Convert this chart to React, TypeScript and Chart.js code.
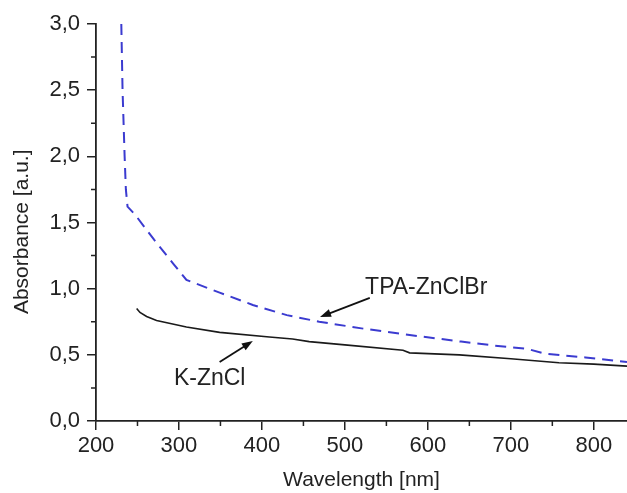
import React, { useEffect, useRef } from "react";
import { Chart, registerables } from "chart.js";

Chart.register(...registerables);

// ---- data ----
const tpaWavelength = [230.5, 232, 234.5, 236, 238, 247, 270, 293, 309, 349, 389, 430, 469, 520, 578, 640, 680, 720, 740, 790, 840];
const tpaAbsorbance = [3.0, 2.5, 2.0, 1.75, 1.62, 1.56, 1.37, 1.19, 1.066, 0.97, 0.877, 0.8, 0.75, 0.7, 0.65, 0.6, 0.57, 0.545, 0.51, 0.48, 0.445];

const kWavelength = [249, 253, 261, 273, 309, 349, 409, 437, 457, 500, 570, 578, 638, 700, 758, 800, 840];
const kAbsorbance = [0.85, 0.82, 0.79, 0.76, 0.71, 0.67, 0.635, 0.62, 0.6, 0.575, 0.535, 0.515, 0.5, 0.47, 0.44, 0.43, 0.415];

const xTickValues = [200, 300, 400, 500, 600, 700, 800];
const xMinorTicks = [250, 350, 450, 550, 650, 750];
const yTickValues = [0, 0.5, 1.0, 1.5, 2.0, 2.5, 3.0];
const yMinorTicks = [0.25, 0.75, 1.25, 1.75, 2.25, 2.75];

const annotationLabels = ["TPA-ZnClBr", "K-ZnCl"];
const annotationTextX = [598, 337];
const annotationTextY = [1.005, 0.317];
const arrowFromX = [530, 349];
const arrowFromY = [0.93, 0.446];
const arrowToX = [470, 389];
const arrowToY = [0.786, 0.605];

const xTitle = "Wavelength [nm]";
const yTitle = "Absorbance [a.u.]";

const FONT = "'Liberation Sans', Arial, Helvetica, sans-serif";
const INK = "#222222";

const overlayPlugin = {
  id: "overlay",
  afterDraw(chart: any) {
    const ctx = chart.ctx;
    const xs = chart.scales.x;
    const ys = chart.scales.y;
    const area = chart.chartArea;
    ctx.save();
    // minor ticks
    ctx.strokeStyle = INK;
    ctx.lineWidth = 1.5;
    ctx.beginPath();
    xMinorTicks.forEach((v) => {
      const px = xs.getPixelForValue(v);
      ctx.moveTo(px, area.bottom);
      ctx.lineTo(px, area.bottom + 5);
    });
    yMinorTicks.forEach((v) => {
      const py = ys.getPixelForValue(v);
      ctx.moveTo(area.left, py);
      ctx.lineTo(area.left - 5, py);
    });
    ctx.stroke();

    // y title
    ctx.fillStyle = INK;
    ctx.font = `21px ${FONT}`;
    ctx.textAlign = "center";
    ctx.textBaseline = "middle";
    ctx.save();
    ctx.translate(22, ys.getPixelForValue(1.43));
    ctx.rotate(-Math.PI / 2);
    ctx.fillText(yTitle, 0, 0);
    ctx.restore();

    // annotations
    ctx.font = `23px ${FONT}`;
    annotationLabels.forEach((t, i) => {
      ctx.fillText(t, xs.getPixelForValue(annotationTextX[i]), ys.getPixelForValue(annotationTextY[i]));
      const x0 = xs.getPixelForValue(arrowFromX[i]);
      const y0 = ys.getPixelForValue(arrowFromY[i]);
      const x1 = xs.getPixelForValue(arrowToX[i]);
      const y1 = ys.getPixelForValue(arrowToY[i]);
      const ang = Math.atan2(y1 - y0, x1 - x0);
      const headLen = 11;
      const headW = 4;
      ctx.strokeStyle = "#111";
      ctx.lineWidth = 1.8;
      ctx.beginPath();
      ctx.moveTo(x0, y0);
      ctx.lineTo(x1 - Math.cos(ang) * headLen * 0.8, y1 - Math.sin(ang) * headLen * 0.8);
      ctx.stroke();
      ctx.fillStyle = "#111";
      ctx.beginPath();
      ctx.moveTo(x1, y1);
      ctx.lineTo(
        x1 - Math.cos(ang) * headLen - Math.sin(ang) * headW,
        y1 - Math.sin(ang) * headLen + Math.cos(ang) * headW
      );
      ctx.lineTo(
        x1 - Math.cos(ang) * headLen + Math.sin(ang) * headW,
        y1 - Math.sin(ang) * headLen - Math.cos(ang) * headW
      );
      ctx.closePath();
      ctx.fill();
      ctx.fillStyle = INK;
    });
    ctx.restore();
  },
};

export default function App() {
  const ref = useRef<HTMLCanvasElement | null>(null);
  useEffect(() => {
    if (!ref.current) return;
    const chart = new Chart(ref.current, {
      type: "line",
      data: {
        datasets: [
          {
            label: "TPA-ZnClBr",
            data: tpaWavelength.map((x, i) => ({ x, y: tpaAbsorbance[i] })),
            borderColor: "#3b3bd0",
            borderWidth: 2,
            borderDash: [11, 7],
            pointRadius: 0,
            tension: 0,
            fill: false,
          },
          {
            label: "K-ZnCl",
            data: kWavelength.map((x, i) => ({ x, y: kAbsorbance[i] })),
            borderColor: "#1a1a1a",
            borderWidth: 1.6,
            pointRadius: 0,
            tension: 0,
            fill: false,
          },
        ],
      },
      options: {
        animation: false,
        responsive: false,
        layout: { padding: { top: 24, right: 0, left: 0, bottom: 0 } },
        plugins: { legend: { display: false }, tooltip: { enabled: false } },
        scales: {
          x: {
            type: "linear",
            min: 200,
            max: 840,
            afterBuildTicks: (s: any) => {
              s.ticks = xTickValues.map((value) => ({ value }));
            },
            afterFit: (s: any) => {
              s.height = 72;
            },
            grid: { drawOnChartArea: false, drawTicks: true, tickLength: 9, color: INK, lineWidth: 1.5 },
            border: { display: true, color: INK, width: 1.8 },
            ticks: {
              color: INK,
              font: { family: FONT, size: 22 },
              padding: 3,
              maxRotation: 0,
              autoSkip: false,
              callback: (v: any) => String(v),
            },
            title: {
              display: true,
              text: xTitle,
              color: INK,
              font: { family: FONT, size: 21 },
              padding: { top: 0, bottom: 0 },
            },
          },
          y: {
            type: "linear",
            min: 0,
            max: 3,
            afterBuildTicks: (s: any) => {
              s.ticks = yTickValues.map((value) => ({ value }));
            },
            afterFit: (s: any) => {
              s.width = 96;
            },
            grid: { drawOnChartArea: false, drawTicks: true, tickLength: 9, color: INK, lineWidth: 1.5 },
            border: { display: true, color: INK, width: 1.8 },
            ticks: {
              color: INK,
              font: { family: FONT, size: 22 },
              padding: 7,
              autoSkip: false,
              callback: (v: any) => Number(v).toFixed(1).replace(".", ","),
            },
            title: { display: false },
          },
        },
      },
      plugins: [overlayPlugin],
    });
    return () => chart.destroy();
  }, []);
  return (
    <div style={{ position: "absolute", left: 0, top: 0, width: 627, height: 493, background: "#fff" }}>
      <canvas ref={ref} width={627} height={493} style={{ display: "block" }} />
    </div>
  );
}
